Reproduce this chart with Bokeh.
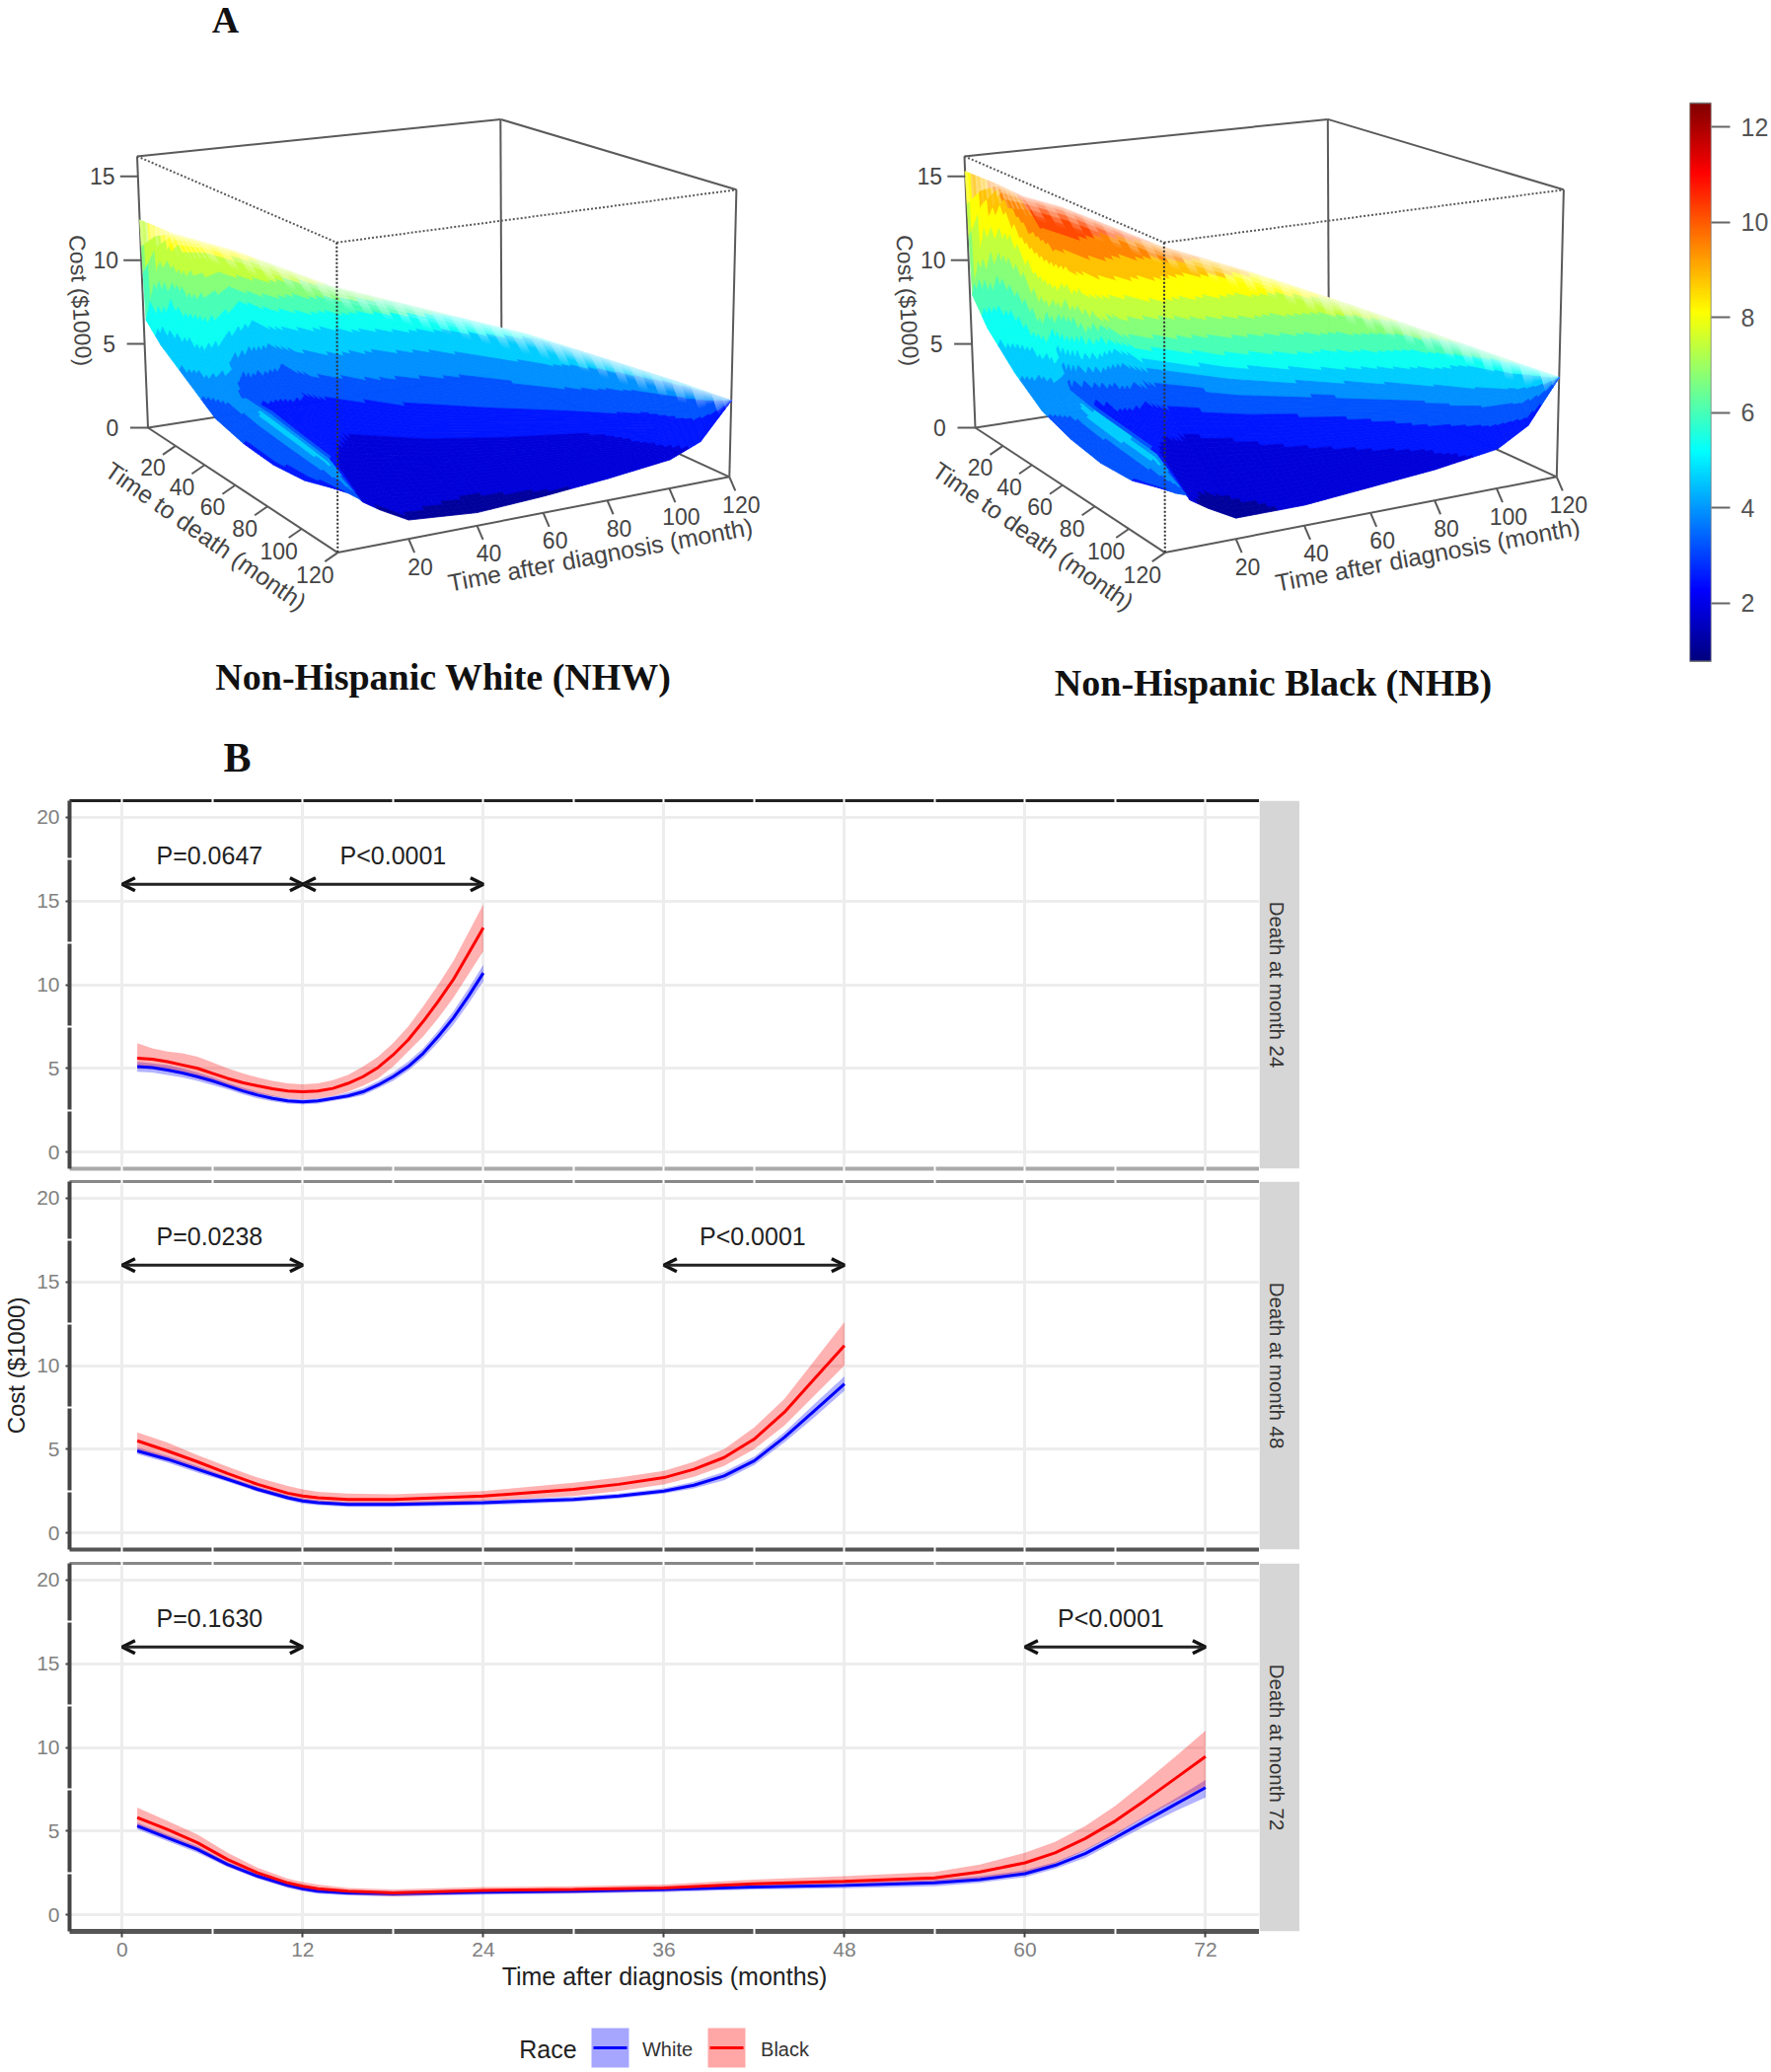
import numpy as np
from math import radians
from bokeh.plotting import figure
from bokeh.layouts import column, row
from bokeh.models import Range1d, LinearAxis, FixedTicker, LinearColorMapper, Arrow, OpenHead
from bokeh.core.properties import value
from bokeh.embed import file_html
from bokeh.resources import INLINE

# ---------- Panel A: surface data (cost in $1000) ----------
t_nodes = [0, 3, 6, 7, 12, 20, 40, 60, 80, 100, 110, 120]
w_nodes = [0, .015, .1, .25, .4, .55, .7, .85, 1]
ticks3d = [20, 40, 60, 80, 100, 120]
z_ticks = [0, 5, 10, 15]

nhw_height = [
    [12.4, 6.5, 5.5, 4.3, 3.1, 2.65, 2.5, 2.7, 3.3],
    [12.1, 9.8, 7.8, 5.6, 4.0, 3.55, 3.35, 3.2, 3.0],
    [11.8, 11.2, 9.6, 7.0, 4.3, 4.1, 3.85, 3.55, 2.6],
    [11.7, 11.4, 10.0, 7.5, 4.4, 4.4, 4.07, 3.8, 2.4],
    [11.4, 11.2, 10.4, 9.0, 7.56, 6.1, 4.7, 3.2, 1.8],
    [10.9, 10.75, 9.8, 8.1, 6.4, 4.9, 3.4, 2.1, 1.0],
    [9.2, 9.07, 8.25, 6.9, 5.4, 4.1, 2.95, 1.8, .7],
    [8.2, 8.1, 7.4, 6.2, 4.9, 3.8, 2.8, 1.8, .9],
    [7.2, 7.1, 6.6, 5.6, 4.5, 3.6, 2.8, 2.0, 1.2],
    [5.8, 5.75, 5.4, 4.7, 4.0, 3.3, 2.7, 2.1, 1.6],
    [5.1, 5.05, 4.85, 4.4, 3.9, 3.4, 3.0, 2.6, 2.3],
    [4.3, 4.3, 4.3, 4.3, 4.3, 4.3, 4.3, 4.3, 4.3],
]
nhw_fill = [
    [8.0, 5.2, 4.6, 4.0, 3.0, 2.8, 2.7, 2.6, 2.6],
    [8.0, 7.0, 5.6, 4.7, 3.6, 3.4, 3.4, 3.3, 3.0],
    [8.0, 8.0, 6.9, 5.2, 3.6, 4.7, 4.7, 4.5, 3.3],
    [8.0, 8.0, 7.2, 5.4, 3.0, 2.7, 2.6, 2.3, 1.5],
    [8.0, 8.0, 7.5, 5.7, 4.4, 3.1, 2.5, 1.9, 1.4],
    [8.0, 7.9, 7.2, 5.3, 4.0, 2.8, 2.0, 1.75, 1.4],
    [7.0, 6.9, 5.8, 4.5, 3.55, 2.6, 2.0, 1.6, 1.3],
    [5.9, 5.7, 5.0, 4.1, 3.2, 2.7, 2.0, 1.65, 1.4],
    [5.1, 5.0, 4.6, 4.1, 3.3, 2.7, 2.0, 1.7, 1.5],
    [4.8, 4.7, 4.3, 3.6, 3.0, 2.7, 2.4, 2.1, 1.9],
    [4.5, 4.4, 4.1, 3.6, 3.2, 2.9, 2.7, 2.5, 2.3],
    [4.2, 4.2, 4.0, 3.8, 3.4, 3.2, 3.0, 2.8, 2.7],
]
nhb_height = [
    [15.3, 8.0, 6.5, 4.8, 3.5, 2.9, 2.6, 2.7, 3.3],
    [15.0, 12.0, 9.0, 6.3, 4.3, 3.7, 3.4, 3.2, 3.0],
    [14.7, 13.9, 11.6, 8.0, 4.6, 4.2, 4.0, 3.8, 2.8],
    [14.6, 14.2, 12.3, 8.8, 4.8, 4.5, 4.3, 4.1, 2.5],
    [14.0, 13.8, 12.8, 11.0, 9.2, 7.3, 5.5, 3.7, 1.9],
    [13.5, 13.3, 12.2, 10.0, 7.9, 5.9, 4.1, 2.5, 1.1],
    [11.6, 11.4, 10.5, 8.7, 7.0, 5.3, 3.8, 2.4, 1.1],
    [10.3, 10.2, 9.3, 7.9, 6.4, 5.0, 3.7, 2.5, 1.4],
    [8.8, 8.7, 8.1, 6.9, 5.8, 4.7, 3.6, 2.6, 1.7],
    [7.2, 7.1, 6.7, 6.0, 5.2, 4.4, 3.6, 2.9, 2.2],
    [6.4, 6.3, 6.1, 5.6, 5.0, 4.5, 4.0, 3.6, 3.2],
    [5.6, 5.6, 5.6, 5.6, 5.6, 5.6, 5.6, 5.6, 5.6],
]
nhb_fill = [
    [8.5, 6.2, 5.2, 4.4, 3.6, 3.2, 3.0, 2.8, 2.8],
    [9.0, 8.0, 6.2, 5.0, 3.8, 3.5, 3.4, 3.3, 3.0],
    [9.5, 8.8, 7.6, 6.5, 3.8, 4.9, 4.9, 4.6, 3.3],
    [9.6, 9.4, 8.6, 7.0, 3.2, 2.6, 2.5, 2.2, 1.5],
    [10.0, 10.0, 10.0, 8.6, 7.3, 4.6, 2.7, 1.8, 1.3],
    [10.4, 10.4, 10.0, 8.2, 6.5, 3.5, 2.2, 1.7, 1.2],
    [9.8, 9.7, 8.6, 7.4, 5.8, 3.7, 2.3, 1.9, 1.6],
    [8.4, 8.3, 7.7, 6.6, 5.3, 3.6, 2.5, 2.0, 1.6],
    [7.6, 7.5, 6.8, 5.8, 4.7, 3.6, 2.9, 2.2, 1.9],
    [6.4, 6.3, 5.9, 4.9, 4.4, 3.8, 3.1, 2.6, 2.3],
    [5.8, 5.7, 5.4, 4.8, 4.3, 3.8, 3.3, 2.9, 2.5],
    [5.2, 5.2, 5.1, 5.0, 4.7, 4.4, 4.0, 3.6, 3.2],
]

# ---------- Panel B: cost curves ----------
m24 = list(range(1, 25))
red24 = [5.6, 5.55, 5.4, 5.2, 5.0, 4.7, 4.4, 4.15, 3.95, 3.78, 3.65, 3.6, 3.65, 3.8, 4.1, 4.5, 5.05, 5.8, 6.7, 7.8, 9.0, 10.3, 11.85, 13.4]
red24_up = [6.5, 6.2, 6.0, 5.9, 5.7, 5.35, 5.0, 4.7, 4.45, 4.25, 4.1, 4.05, 4.1, 4.3, 4.6, 5.1, 5.7, 6.5, 7.5, 8.7, 10.0, 11.4, 13.1, 14.8]
red24_lo = [5.0, 5.0, 4.9, 4.7, 4.4, 4.15, 3.9, 3.7, 3.5, 3.33, 3.2, 3.15, 3.2, 3.35, 3.6, 3.95, 4.4, 5.1, 6.0, 6.9, 8.0, 9.2, 10.6, 12.0]
blue24 = [5.1, 5.05, 4.9, 4.72, 4.5, 4.25, 3.95, 3.65, 3.4, 3.2, 3.05, 3.0, 3.05, 3.2, 3.35, 3.6, 4.0, 4.5, 5.1, 5.9, 6.9, 8.0, 9.3, 10.7]
blue24_up = [5.4, 5.3, 5.2, 4.98, 4.75, 4.47, 4.15, 3.85, 3.6, 3.38, 3.2, 3.15, 3.2, 3.35, 3.55, 3.8, 4.23, 4.75, 5.4, 6.2, 7.25, 8.4, 9.75, 11.2]
blue24_lo = [4.8, 4.75, 4.6, 4.45, 4.25, 4.0, 3.75, 3.45, 3.2, 3.03, 2.9, 2.85, 2.9, 3.05, 3.2, 3.4, 3.8, 4.25, 4.85, 5.6, 6.55, 7.6, 8.85, 10.2]

m48 = [1, 3, 5, 7, 9, 11, 12, 13, 15, 18, 24, 30, 33, 36, 38, 40, 42, 44, 46, 48]
red48 = [5.5, 4.9, 4.25, 3.55, 2.9, 2.37, 2.2, 2.1, 2.0, 2.0, 2.2, 2.6, 2.9, 3.3, 3.8, 4.5, 5.6, 7.2, 9.2, 11.2]
red48_up = [6.0, 5.4, 4.65, 3.95, 3.3, 2.8, 2.6, 2.45, 2.35, 2.3, 2.5, 3.0, 3.3, 3.7, 4.25, 5.0, 6.3, 8.0, 10.3, 12.6]
red48_lo = [5.0, 4.4, 3.85, 3.15, 2.5, 2.05, 1.9, 1.8, 1.7, 1.7, 1.9, 2.2, 2.5, 2.9, 3.35, 4.0, 5.0, 6.4, 8.2, 10.0]
blue48 = [4.9, 4.4, 3.8, 3.2, 2.6, 2.1, 1.9, 1.8, 1.7, 1.7, 1.8, 2.0, 2.2, 2.5, 2.85, 3.4, 4.3, 5.7, 7.3, 8.9]
blue48_up = [5.1, 4.6, 4.0, 3.35, 2.75, 2.25, 2.05, 1.95, 1.85, 1.85, 1.95, 2.15, 2.35, 2.65, 3.05, 3.65, 4.55, 6.0, 7.7, 9.35]
blue48_lo = [4.7, 4.2, 3.6, 3.05, 2.45, 1.95, 1.75, 1.65, 1.55, 1.55, 1.65, 1.85, 2.05, 2.35, 2.65, 3.15, 4.05, 5.4, 6.9, 8.5]

m72 = [1, 3, 5, 7, 9, 11, 12, 13, 15, 18, 24, 30, 36, 42, 48, 54, 57, 60, 62, 64, 66, 68, 70, 72]
red72 = [5.8, 5.1, 4.3, 3.3, 2.5, 1.9, 1.7, 1.55, 1.4, 1.3, 1.45, 1.5, 1.6, 1.85, 2.0, 2.2, 2.55, 3.1, 3.7, 4.55, 5.6, 6.85, 8.15, 9.45]
red72_up = [6.4, 5.6, 4.8, 3.7, 2.8, 2.15, 1.95, 1.8, 1.6, 1.5, 1.65, 1.7, 1.8, 2.1, 2.3, 2.55, 3.0, 3.7, 4.35, 5.3, 6.5, 7.95, 9.45, 11.0]
red72_lo = [5.2, 4.6, 3.8, 2.9, 2.2, 1.65, 1.45, 1.35, 1.2, 1.1, 1.25, 1.3, 1.4, 1.6, 1.7, 1.9, 2.15, 2.5, 3.05, 3.85, 4.8, 5.85, 6.8, 7.7]
blue72 = [5.3, 4.6, 3.9, 3.0, 2.3, 1.75, 1.55, 1.4, 1.3, 1.25, 1.35, 1.4, 1.5, 1.65, 1.75, 1.9, 2.1, 2.45, 2.95, 3.65, 4.6, 5.6, 6.6, 7.6]
blue72_up = [5.5, 4.8, 4.1, 3.15, 2.45, 1.9, 1.7, 1.55, 1.45, 1.4, 1.5, 1.55, 1.65, 1.8, 1.92, 2.1, 2.3, 2.65, 3.15, 3.9, 4.85, 5.9, 6.95, 8.05]
blue72_lo = [5.1, 4.4, 3.7, 2.85, 2.15, 1.6, 1.4, 1.25, 1.15, 1.1, 1.2, 1.25, 1.35, 1.5, 1.58, 1.7, 1.9, 2.25, 2.75, 3.4, 4.35, 5.3, 6.2, 7.0]

x_ticks = [0, 12, 24, 36, 48, 60, 72]
x_minor = [6, 18, 30, 42, 54, 66]
y_ticks = [0, 5, 10, 15, 20]
y_minor = [2.5, 7.5, 12.5, 17.5]
arrow_level = 16
cbar_ticks = [2, 4, 6, 8, 10, 12]
CB_LOW, CB_HIGH = 0.77, 12.5
ZTOP = 16.2

FONT = "Liberation Sans"
SERIF = "Liberation Serif"


def jet_rgb(c):
    x = np.clip((np.asarray(c, float) - CB_LOW) / (CB_HIGH - CB_LOW), 0, 1)
    r = np.clip(1.5 - np.abs(4 * x - 3), 0, 1)
    g = np.clip(1.5 - np.abs(4 * x - 2), 0, 1)
    b = np.clip(1.5 - np.abs(4 * x - 1), 0, 1)
    return r, g, b


def to_hex(r, g, b):
    return "#%02x%02x%02x" % (int(r * 255), int(g * 255), int(b * 255))


def homography(l, f, r, b):
    src = [(0, 0), (0, 1), (1, 1), (1, 0)]
    dst = [l, f, r, b]
    A, v = [], []
    for (u, w), (x, y) in zip(src, dst):
        A.append([u, w, 1, 0, 0, 0, -u * x, -w * x]); v.append(x)
        A.append([0, 0, 0, u, w, 1, -u * y, -w * y]); v.append(y)
    return np.append(np.linalg.solve(np.array(A, float), np.array(v, float)), 1).reshape(3, 3)


def apply(H, a, b):
    a, b = np.asarray(a, float), np.asarray(b, float)
    d = H[2, 0] * a + H[2, 1] * b + H[2, 2]
    return (H[0, 0] * a + H[0, 1] * b + H[0, 2]) / d, (H[1, 0] * a + H[1, 1] * b + H[1, 2]) / d


class Box3D:
    """Perspective scale of a 3D box: (time after dx, time to death, cost) -> plot position."""
    def __init__(self, dx):
        self.dx = dx
        self.Hb = homography((149.5, 433), (341.8, 559.6), (738.8, 482.8), (508, 377))
        self.Ht = homography((138.5, 157.9), (340.8, 245.3), (745.9, 191.8), (506.8, 120.4))

    def __call__(self, t, T, z=0.0):
        a, b = np.asarray(t, float) / 120, np.asarray(T, float) / 120
        xb, yb = apply(self.Hb, a, b)
        xt, yt = apply(self.Ht, a, b)
        f = np.asarray(z, float) / ZTOP
        return xb + (xt - xb) * f + self.dx, yb + (yt - yb) * f


def txt(p, x, y, s, size, color="#444444", angle=0, font=FONT, style="normal", align="center"):
    p.text(x=[x], y=[y], text=[s], text_font=value(font), text_font_size=value(f"{size}px"),
           text_color=color, angle=radians(angle), text_align=align, text_baseline="middle",
           text_font_style=style)


def surface(p, box, height, fill):
    t_f = np.concatenate([np.arange(0, 12, .5), np.arange(12, 120.01, 2)])
    w_f = np.concatenate([[0, .004, .008, .015, .03, .05, .07], np.arange(.085, 1.001, .015)])
    H = np.array(height, float); C = np.array(fill, float)
    Hw = np.array([np.interp(w_f, w_nodes, r) for r in H]).T
    Cw = np.array([np.interp(w_f, w_nodes, r) for r in C]).T
    Zg = np.array([np.interp(t_f, t_nodes, r) for r in Hw]).T   # shape nt,nw
    Cg = np.array([np.interp(t_f, t_nodes, r) for r in Cw]).T
    tt, ww = np.meshgrid(t_f, w_f, indexing="ij")
    X, Y = box(tt, tt + ww * (120 - tt), Zg)
    xs, ys, cols = [], [], []
    for i in range(len(t_f) - 2, -1, -1):
        fringe = 16 if i % 2 else 24
        for j in range(len(w_f) - 1):
            c = Cg[i:i + 2, j:j + 2].mean()
            c = 1.1 + .7 * round((c - 1.1) / .7)
            r, g, b = jet_rgb(c)
            d = Y[i, j:j + 2].mean() - Y[i, 0]
            f = float(np.clip(1 - d / fringe, 0, 1)) * .8
            cols.append(to_hex(r + (1 - r) * f, g + (1 - g) * f, b + (1 - b) * f))
            xs.append([X[i, j], X[i + 1, j], X[i + 1, j + 1], X[i, j + 1]])
            ys.append([Y[i, j], Y[i + 1, j], Y[i + 1, j + 1], Y[i, j + 1]])
    p.patches(xs, ys, fill_color=cols, line_color=cols, line_width=.8)


def panel3d(p, box, height, fill, title, title_xy):
    G = "#5a5a5a"
    def seg(a, b, dash="solid", color=G, width=2):
        p.line([a[0], b[0]], [a[1], b[1]], line_color=color, line_width=width, line_dash=dash)
    c = {k: box(*v) for k, v in dict(L=(0, 0), F=(0, 120), R=(120, 120), B=(120, 0)).items()}
    u = {k: box(*v, ZTOP) for k, v in dict(L=(0, 0), F=(0, 120), R=(120, 120), B=(120, 0)).items()}
    # back of the box
    seg(u["L"], u["F"], "2 2"); seg(u["F"], u["R"], "2 2")
    seg(u["L"], u["B"]); seg(u["B"], u["R"])
    seg(u["B"], c["B"]); seg(c["L"], c["B"]); seg(c["R"], c["B"])
    seg(u["L"], c["L"]); seg(u["R"], c["R"])
    surface(p, box, height, fill)
    seg(c["L"], c["F"]); seg(c["F"], c["R"])
    seg(u["F"], c["F"], "2 2", "#303030", 2)
    dx = box.dx
    for z in z_ticks:
        x, y = box(0, 0, z)
        seg((x - 18, y), (x, y))
        txt(p, x - 36, y, str(z), 23)
    for v in ticks3d:
        x, y = box(0, v)
        seg((x, y), (x - 13, y + 9))
        txt(p, x - 23, y + 22, str(v), 23)
        x, y = box(v, 120)
        seg((x, y), (x + 6, y + 14))
        txt(p, x + 12, y + 28, str(v), 23)
    txt(p, dx + 81, 304, "Cost ($1000)", 23, angle=-87)
    txt(p, dx + 208, 543, "Time to death (month)", 24.7, angle=-35)
    txt(p, dx + 608, 562, "Time after diagnosis (month)", 24.7, angle=10.6)
    txt(p, title_xy[0], title_xy[1], title, 38, color="#111111", font=SERIF, style="bold")


# ---------- Top figure ----------
TOP_H = 795
A = figure(width=1700, height=TOP_H, x_range=Range1d(0, 1700), y_range=Range1d(TOP_H, 0),
           x_axis_type=None, y_axis_type=None, output_backend="svg", toolbar_location=None,
           min_border=0, outline_line_color=None)
A.grid.visible = False
panel3d(A, Box3D(0), nhw_height, nhw_fill, "Non-Hispanic White (NHW)", (449, 685))
panel3d(A, Box3D(838.5), nhb_height, nhb_fill, "Non-Hispanic Black (NHB)", (1290, 691))
txt(A, 228, 19, "A", 38, color="#111111", font=SERIF, style="bold")
txt(A, 240, 767, "B", 42, color="#111111", font=SERIF, style="bold")

# ---------- Colour bar: same frame height as the top figure, scale fixed by 48.25 px per unit ----------
grad = np.linspace(CB_LOW, CB_HIGH, 256).reshape(256, 1)
palette = [to_hex(*jet_rgb(v)) for v in np.linspace(CB_LOW, CB_HIGH, 256)]
CB = figure(width=95, height=TOP_H, x_range=Range1d(0, 1), y_range=Range1d(2 - (TOP_H - 610.5) / 48.25, 12 + 128 / 48.25),
            x_axis_type=None, y_axis_location="right", output_backend="svg", toolbar_location=None,
            min_border_left=12, min_border_right=58, min_border_top=0, min_border_bottom=0,
            outline_line_color=None)
CB.grid.visible = False
CB.image(image=[grad], x=0, y=CB_LOW, dw=1, dh=CB_HIGH - CB_LOW,
         color_mapper=LinearColorMapper(palette=palette, low=CB_LOW, high=CB_HIGH))
CB.quad(left=[0], right=[1], bottom=[CB_LOW], top=[CB_HIGH], fill_color=None, line_color="#777777", line_width=1.5)
ax = CB.yaxis[0]
ax.ticker = FixedTicker(ticks=cbar_ticks)
ax.axis_line_color = None
ax.major_tick_in = 0
ax.major_tick_out = 19
ax.major_tick_line_color = "#666666"
ax.major_tick_line_width = 2
ax.major_label_standoff = 11
ax.major_label_text_font = FONT
ax.major_label_text_font_size = "25px"
ax.major_label_text_color = "#555555"
ax.major_label_orientation = "horizontal"


# ---------- Facets ----------
def edge_axis(a, color, width, bare=False):
    a.axis_line_color = color
    a.axis_line_width = width
    a.minor_tick_line_color = "white"
    a.minor_tick_line_width = 2
    a.minor_tick_in = 3
    a.minor_tick_out = 3
    if bare:
        a.ticker = FixedTicker(ticks=[], minor_ticks=sorted(x_ticks + x_minor))
        a.major_tick_line_color = None
    else:
        a.ticker = FixedTicker(ticks=x_ticks, minor_ticks=x_minor)


def facet(label, months, r, r_up, r_lo, b, b_up, b_lo, notes, top_col, bot_col, top, bottom, last=False, ytitle=False):
    p = figure(width=1276, height=top + 373 + bottom, x_range=Range1d(-3.5, 75.58), y_range=Range1d(-1, 21),
               output_backend="svg", toolbar_location=None, min_border_left=70, min_border_right=0,
               min_border_top=top, min_border_bottom=bottom, outline_line_color=None)
    p.xgrid.ticker = FixedTicker(ticks=x_ticks)
    p.ygrid.ticker = FixedTicker(ticks=y_ticks)
    p.grid.grid_line_color = "#ededed"
    p.grid.grid_line_width = 3
    p.varea(months, b_lo, b_up, fill_color="blue", fill_alpha=.3)
    p.varea(months, r_lo, r_up, fill_color="red", fill_alpha=.3)
    p.line(months, b, line_color="blue", line_width=3)
    p.line(months, r, line_color="red", line_width=3)
    for (x0, x1), (tx, s) in notes:
        p.add_layout(Arrow(start=OpenHead(size=13, line_width=3.5, line_color="#111111"),
                           end=OpenHead(size=13, line_width=3.5, line_color="#111111"),
                           x_start=x0, x_end=x1, y_start=arrow_level, y_end=arrow_level,
                           line_width=3, line_color="#222222"))
        txt(p, tx, 17.75, s, 25, color="#222222")
    ya = p.yaxis[0]
    ya.ticker = FixedTicker(ticks=y_ticks, minor_ticks=y_minor)
    ya.axis_line_color = "#444444"
    ya.axis_line_width = 4
    ya.major_tick_in = 0
    ya.major_tick_out = 4
    ya.major_tick_line_color = "#444444"
    ya.major_tick_line_width = 2
    ya.minor_tick_line_color = "white"
    ya.minor_tick_line_width = 2
    ya.minor_tick_in = 3
    ya.minor_tick_out = 3
    ya.major_label_standoff = 6
    ya.major_label_text_font = FONT
    ya.major_label_text_font_size = "21px"
    ya.major_label_text_color = "#808080"
    if ytitle:
        ya.axis_label = "Cost ($1000)"
        ya.axis_label_text_font = FONT
        ya.axis_label_text_font_size = "24px"
        ya.axis_label_text_font_style = "normal"
        ya.axis_label_text_color = "#222222"
        ya.axis_label_standoff = 4
    above = LinearAxis()
    edge_axis(above, top_col, 3, bare=True)
    p.add_layout(above, "above")
    xa = [a for a in p.below if isinstance(a, LinearAxis)][0]
    if last:
        edge_axis(xa, bot_col, 5)
        xa.major_tick_in = 0
        xa.major_tick_out = 6
        xa.major_tick_line_color = "#444444"
        xa.major_tick_line_width = 2
        xa.major_label_standoff = 5
        xa.major_label_text_font = FONT
        xa.major_label_text_font_size = "21px"
        xa.major_label_text_color = "#808080"
        xa.axis_label = "Time after diagnosis (months)"
        xa.axis_label_text_font = FONT
        xa.axis_label_text_font_size = "25px"
        xa.axis_label_text_font_style = "normal"
        xa.axis_label_text_color = "#222222"
        xa.axis_label_standoff = 3
    else:
        edge_axis(xa, bot_col, 4, bare=True)
    s = figure(width=41, height=top + 373 + bottom, x_range=Range1d(0, 1), y_range=Range1d(0, 1),
               x_axis_type=None, y_axis_type=None, output_backend="svg", toolbar_location=None,
               min_border_left=0, min_border_right=0, min_border_top=top, min_border_bottom=bottom,
               outline_line_color=None)
    s.grid.visible = False
    s.quad(left=[0], right=[1], bottom=[0], top=[1], fill_color="#d6d6d6", line_color=None)
    txt(s, .45, .5, label, 20.5, color="#333333", angle=-90)
    return row(p, s, spacing=0)


f1 = facet("Death at month 24", m24, red24, red24_up, red24_lo, blue24, blue24_up, blue24_lo,
           [((0, 12), (5.8, "P=0.0647")), ((12, 24), (18, "P<0.0001"))], "#222222", "#aaaaaa", 16, 6)
f2 = facet("Death at month 48", m48, red48, red48_up, red48_lo, blue48, blue48_up, blue48_lo,
           [((0, 12), (5.8, "P=0.0238")), ((36, 48), (41.9, "P<0.0001"))], "#888888", "#555555", 7, 7, ytitle=True)
f3 = facet("Death at month 72", m72, red72, red72_up, red72_lo, blue72, blue72_up, blue72_lo,
           [((0, 12), (5.8, "P=0.1630")), ((60, 72), (65.7, "P<0.0001"))], "#888888", "#555555", 7, 73, last=True)

# ---------- Legend ----------
L = figure(width=1000, height=68, x_range=Range1d(0, 1000), y_range=Range1d(2098, 2030),
           x_axis_type=None, y_axis_type=None, output_backend="svg", toolbar_location=None,
           min_border=0, outline_line_color=None)
L.grid.visible = False
txt(L, 555, 2076, "Race", 25, color="#222222")
for x0, x1, col, name, tx in [(599, 637, "blue", "White", 676), (717, 755, "red", "Black", 795)]:
    L.quad(left=[x0], right=[x1], bottom=[2095], top=[2055], fill_color=col, fill_alpha=.35, line_color=None)
    L.line([x0 + 2, x1 - 2], [2075, 2075], line_color=col, line_width=3)
    txt(L, tx, 2076, name, 20, color="#333333")

page = column(row(A, CB, spacing=0), f1, f2, f3, L, spacing=0)
open("out.html", "w").write(file_html(page, INLINE))
